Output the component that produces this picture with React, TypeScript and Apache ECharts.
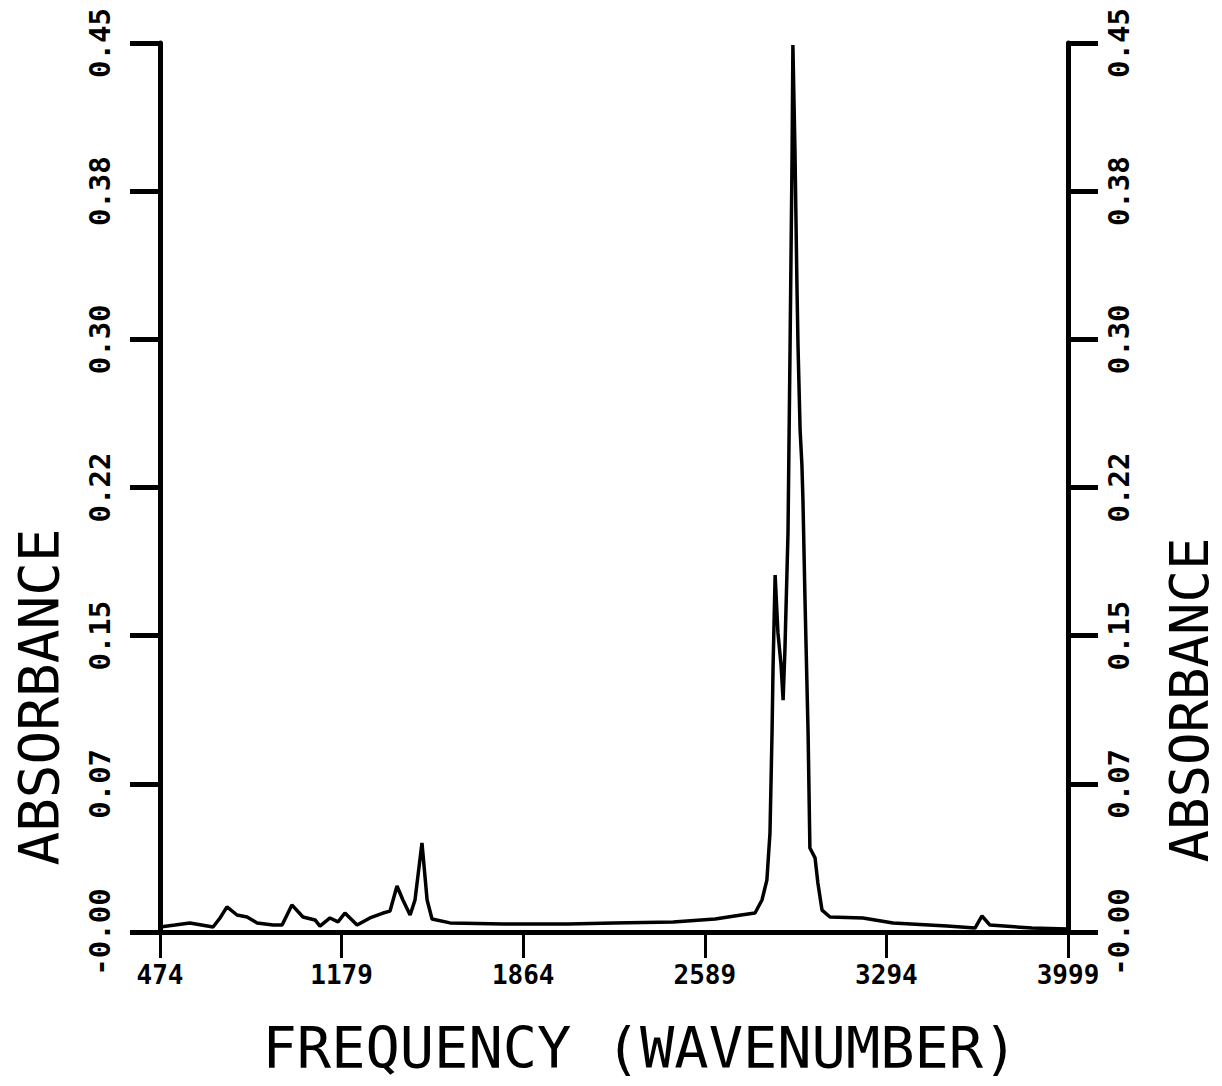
import React, { useEffect, useRef } from "react";
import * as echarts from "echarts";

// Spectrum (wavenumber, absorbance)
const wavenumbers = [
  474, 532, 590, 680, 707, 734, 773, 812, 851, 913, 948, 986, 1029, 1076, 1095,
  1134, 1165, 1192, 1239, 1289, 1340, 1367, 1394, 1417, 1445, 1464, 1491, 1511,
  1530, 1600, 1809, 2058, 2236, 2466, 2629, 2730, 2784, 2811, 2830, 2842, 2850,
  2854, 2862, 2873, 2885, 2893, 2900, 2912, 2920, 2928, 2931, 2939, 2947, 2951,
  2959, 2966, 2970, 2978, 2990, 2997, 3017, 3028, 3044, 3075, 3203, 3320, 3529,
  3638, 3665, 3696, 3859, 3999,
];
const absorbance = [
  0.0025, 0.0035, 0.0046, 0.0025, 0.0071, 0.0127, 0.0086, 0.0076, 0.0046, 0.0035,
  0.0035, 0.0137, 0.0076, 0.0061, 0.003, 0.0071, 0.0051, 0.0096, 0.0035, 0.0071,
  0.0096, 0.0106, 0.0233, 0.0162, 0.0086, 0.0162, 0.0451, 0.0162, 0.0066, 0.0046,
  0.004, 0.004, 0.0046, 0.0051, 0.0066, 0.0086, 0.0096, 0.0162, 0.0263, 0.0501,
  0.1007, 0.1341, 0.1807, 0.1514, 0.1352, 0.1174, 0.1427, 0.202, 0.2961, 0.3958,
  0.449, 0.3958, 0.325, 0.2961, 0.2541, 0.2364, 0.2187, 0.1681, 0.1007, 0.0425,
  0.0375, 0.0248, 0.0111, 0.0076, 0.0071, 0.0046, 0.003, 0.002, 0.0081, 0.0035,
  0.002, 0.0015,
];

const xTickValues = [474, 1179, 1884, 2589, 3294, 3999];
const xTickLabels = ["474", "1179", "1864", "2589", "3294", "3999"];
const yTickValues = [0, 0.075, 0.15, 0.225, 0.3, 0.375, 0.45];
const yTickLabels = ["-0.00", "0.07", "0.15", "0.22", "0.30", "0.38", "0.45"];
const yAxisTitle = "ABSORBANCE";
const xAxisTitle = "FREQUENCY (WAVENUMBER)";

const MONO = "'DejaVu Sans Mono', monospace";

function labelFor(values: number[], labels: string[], v: number) {
  const i = values.findIndex((t) => Math.abs(t - v) < 1e-6 * Math.max(1, Math.abs(t)) + 1e-9);
  return i >= 0 ? labels[i] : "";
}

function yAxisCfg(position: "left" | "right") {
  return {
    type: "value",
    position,
    min: 0,
    max: 0.45,
    interval: 0.075,
    splitLine: { show: false },
    axisLine: { show: true, lineStyle: { color: "#000", width: 5 } },
    axisTick: {
      show: true,
      inside: false,
      length: 30,
      customValues: yTickValues,
      lineStyle: { color: "#000", width: 5 },
    },
    axisLabel: {
      show: true,
      rotate: 90,
      margin: position === "left" ? 46 : 36,
      customValues: yTickValues,
      color: "#000",
      fontFamily: MONO,
      fontWeight: "bold",
      fontSize: 29,
      formatter: (v: number) => labelFor(yTickValues, yTickLabels, v),
    },
  };
}

export default function App() {
  const ref = useRef<HTMLDivElement>(null);

  useEffect(() => {
    document.body.style.margin = "0";
    if (!ref.current) return;
    const chart = echarts.init(ref.current, null, { renderer: "svg" });
    const data = wavenumbers.map((w, i) => [w, absorbance[i]]);
    const titleStyle = (size: number) => ({
      fill: "#000",
      font: `normal ${size}px ${MONO}`,
      lineHeight: size * 0.75,
      align: "center",
      verticalAlign: "middle",
    });
    chart.setOption({
      animation: false,
      backgroundColor: "#fff",
      grid: { left: 160, right: 154, top: 43, bottom: 154, outerBoundsMode: "none" },
      xAxis: {
        type: "value",
        min: 474,
        max: 3999,
        splitLine: { show: false },
        axisLine: { show: true, onZero: false, lineStyle: { color: "#000", width: 5 } },
        axisTick: {
          show: true,
          length: 26,
          customValues: xTickValues,
          lineStyle: { color: "#000", width: 3 },
        },
        axisLabel: {
          show: true,
          margin: 30,
          customValues: xTickValues,
          color: "#000",
          fontFamily: MONO,
          fontWeight: "bold",
          fontSize: 26,
          formatter: (v: number) => labelFor(xTickValues, xTickLabels, v),
        },
      },
      yAxis: [yAxisCfg("left"), yAxisCfg("right")],
      series: [
        {
          type: "line",
          data,
          yAxisIndex: 0,
          showSymbol: false,
          symbol: "none",
          lineStyle: { color: "#000", width: 3.5 },
          z: 3,
        },
      ],
      graphic: [
        {
          type: "text",
          x: 38,
          y: 697,
          rotation: Math.PI / 2,
          style: { text: yAxisTitle, ...titleStyle(56) },
        },
        {
          type: "text",
          x: 1189,
          y: 700,
          rotation: Math.PI / 2,
          style: { text: yAxisTitle, ...titleStyle(54) },
        },
        {
          type: "text",
          x: 640,
          y: 1048,
          style: { text: xAxisTitle, ...titleStyle(57) },
        },
      ],
    });
    return () => chart.dispose();
  }, []);

  return (
    <div
      ref={ref}
      style={{ width: "1222px", height: "1086px", overflow: "hidden", background: "#fff" }}
    />
  );
}
